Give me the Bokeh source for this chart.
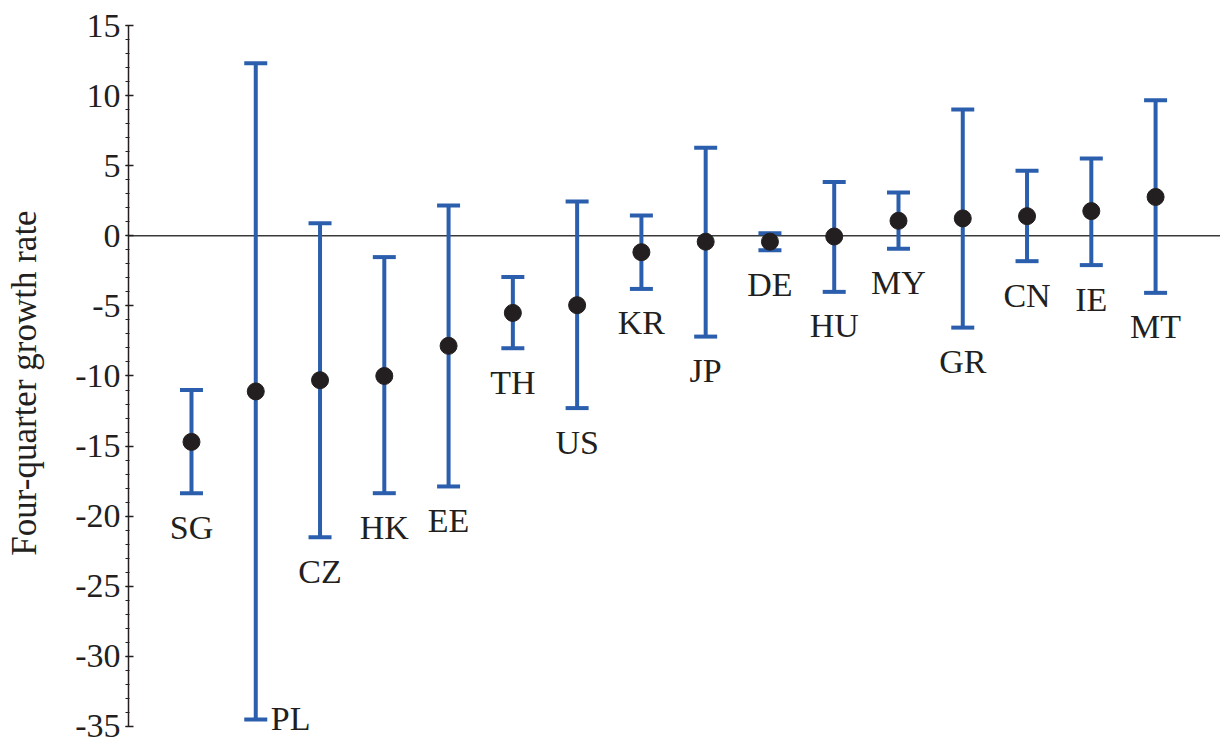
from bokeh.plotting import figure
from bokeh.models import Range1d, SingleIntervalTicker, Span, ColumnDataSource, CustomJSTickFormatter
from bokeh.embed import file_html
from bokeh.resources import INLINE
from bokeh.core.properties import value

# ---- data ----
countries = ["SG", "PL", "CZ", "HK", "EE", "TH", "US", "KR", "JP", "DE",
             "HU", "MY", "GR", "CN", "IE", "MT"]
growth = [-14.7, -11.1, -10.3, -10.0, -7.85, -5.5, -4.95, -1.17, -0.42, -0.42,
          -0.05, 1.07, 1.24, 1.40, 1.76, 2.77]
upper = [-11.0, 12.3, 0.89, -1.52, 2.16, -2.94, 2.44, 1.45, 6.28, 0.18,
         3.83, 3.08, 9.0, 4.64, 5.51, 9.67]
lower = [-18.36, -34.5, -21.5, -18.36, -17.88, -8.02, -12.29, -3.79, -7.19, -1.03,
         -4.0, -0.93, -6.55, -1.81, -2.09, -4.07]
y_label = "Four-quarter growth rate"

BLUE = "#2b5fad"
DARK = "#231f20"
FONT = "Liberation Serif"

xs = list(range(len(countries)))
# label placement: below the lower whisker, except when the whisker reaches the bottom
lab_x_off = [15 if lo < -30 else 0 for lo in lower]
lab_y_off = [-1 if lo < -30 else 34 for lo in lower]
lab_align = ["left" if lo < -30 else "center" for lo in lower]

src = ColumnDataSource(dict(x=xs, g=growth, up=upper, lo=lower, name=countries,
                            dx=lab_x_off, dy=lab_y_off, al=lab_align))

p = figure(width=1220, height=746, output_backend="svg", toolbar_location=None,
           x_range=Range1d(-0.98, 16.01), y_range=Range1d(-36.0, 15),
           min_border_left=128, min_border_right=0, min_border_top=25,
           min_border_bottom=6)
p.outline_line_color = None
p.xgrid.visible = False
p.ygrid.visible = False
p.xaxis.visible = False
p.background_fill_color = "white"

zero = Span(location=0, dimension="width", line_color="#3a3a3a", line_width=1.5,
            level="underlay")
p.add_layout(zero)

p.segment(x0="x", y0="lo", x1="x", y1="up", source=src, line_color=BLUE, line_width=4)
p.scatter(x="x", y="up", source=src, marker="dash", size=23, line_color=BLUE, line_width=4)
p.scatter(x="x", y="lo", source=src, marker="dash", size=23, line_color=BLUE, line_width=4)
p.scatter(x="x", y="g", source=src, marker="circle", size=17, fill_color=DARK,
          line_color=DARK)

p.text(x="x", y="lo", text="name", source=src, x_offset="dx", y_offset="dy",
       text_align="al", text_baseline="middle", text_font=value(FONT),
       text_font_size="34px", text_color=DARK)

ax = p.yaxis[0]
ax.ticker = SingleIntervalTicker(interval=5, num_minor_ticks=5)
ax.bounds = (-35, 15)
ax.formatter = CustomJSTickFormatter(code="return tick.toFixed(0);")
ax.axis_label = y_label
ax.axis_label_text_font = FONT
ax.axis_label_text_font_size = "35px"
ax.axis_label_text_font_style = "normal"
ax.axis_label_text_color = DARK
ax.axis_label_standoff = 28
ax.major_label_text_font = FONT
ax.major_label_text_font_size = "34px"
ax.major_label_text_color = DARK
ax.major_label_standoff = 5
ax.axis_line_color = DARK
ax.axis_line_width = 1.5
ax.major_tick_line_color = DARK
ax.major_tick_line_width = 1.5
ax.major_tick_in = 5
ax.major_tick_out = 3
ax.minor_tick_line_color = DARK
ax.minor_tick_line_width = 1.2
ax.minor_tick_in = 1
ax.minor_tick_out = 3

open("out.html", "w").write(file_html(p, INLINE))
